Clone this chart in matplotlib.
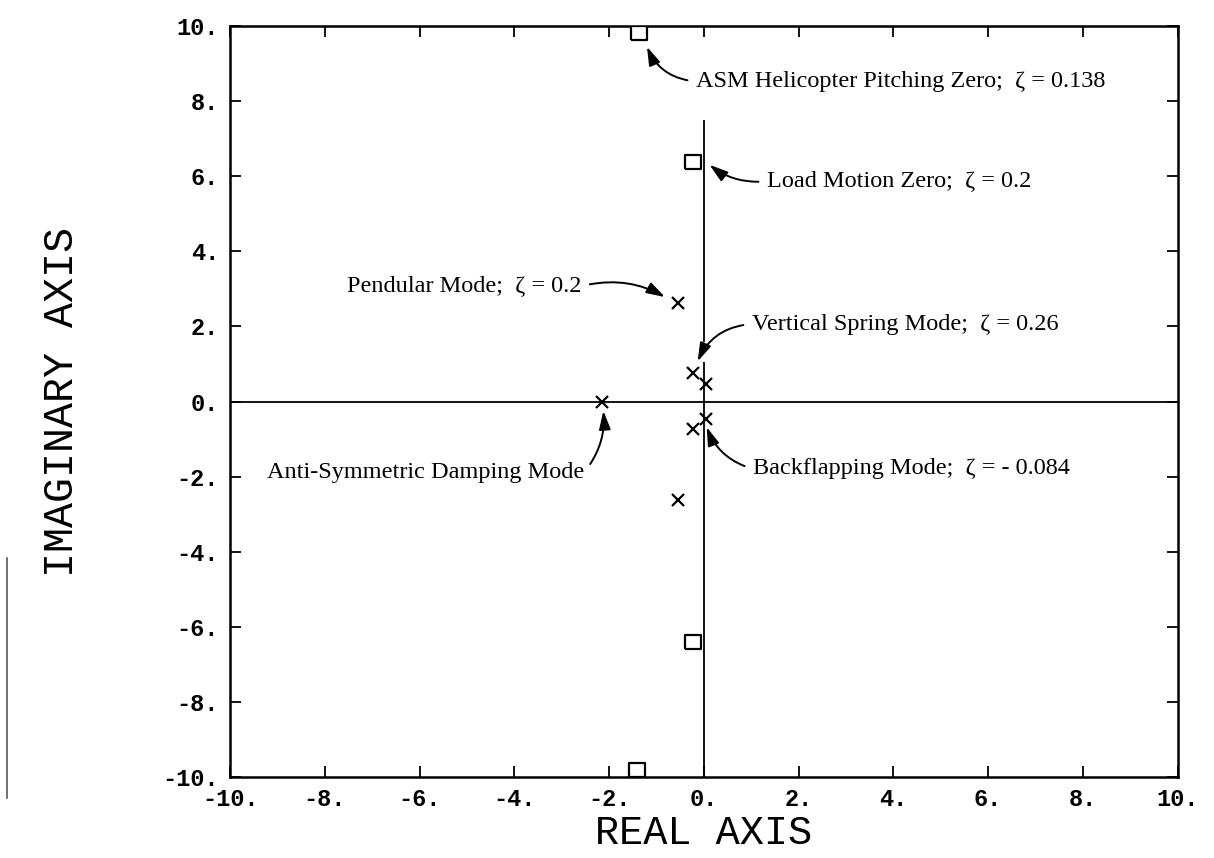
import numpy as np
import matplotlib.pyplot as plt
from matplotlib.lines import Line2D

# polos (x) y ceros (cuadrados)
polo_re = [-0.55, -0.55, -2.15, -0.23, -0.23, 0.04, 0.04]
polo_im = [2.63, -2.63, 0.0, 0.75, -0.73, 0.48, -0.46]
cero_re = [-1.37, -1.40, -0.23, -0.23]
cero_im = [9.8, -9.8, 6.37, -6.39]

ticks = [-10, -8, -6, -4, -2, 0, 2, 4, 6, 8, 10]
tick_lbl = ["-10.", "-8.", "-6.", "-4.", "-2.", "0.", "2.", "4.", "6.", "8.", "10."]

# notas: texto, posicion del texto, punta de flecha, alineacion, salida flecha, curvatura
notas = [
    ("ASM Helicopter Pitching Zero;  \u03b6 = 0.138", (-0.17, 8.52), (-1.2, 9.44), "left", (0, 0.5), -0.3),
    ("Load Motion Zero;  \u03b6 = 0.2", (1.33, 5.86), (0.12, 6.3), "left", (0, 0.5), -0.2),
    ("Pendular Mode;  \u03b6 = 0.2", (-7.53, 3.07), (-0.82, 2.78), "left", (1, 0.5), -0.2),
    ("Vertical Spring Mode;  \u03b6 = 0.26", (1.01, 2.06), (-0.13, 1.07), "left", (0, 0.5), 0.3),
    ("Anti-Symmetric Damping Mode", (-9.22, -1.88), (-2.12, -0.25), "left", (1, 0.5), 0.2),
    ("Backflapping Mode;  \u03b6 = - 0.084", (1.03, -1.79), (0.06, -0.68), "left", (0, 0.5), -0.25),
]

# cuadrado un poco apaisado como en el original
caja = [(-1, -0.78), (1, -0.78), (1, 0.78), (-1, 0.78), (-1, -0.78)]

fig = plt.figure(figsize=(12.14, 8.58), dpi=100)
ax = fig.add_axes([0.1895, 0.094, 0.7805, 0.876])

ax.axhline(0, color="k", lw=1.3, zorder=1)
ax.vlines(0, -10, 1.05, color="k", lw=1.3, zorder=1)
ax.vlines(0, 1.58, 7.5, color="k", lw=1.3, zorder=1)

ax.plot(polo_re, polo_im, "x", color="k", ms=8, mew=1.6, zorder=3)
ax.plot(cero_re, cero_im, marker=caja, ls="none", mfc="white", mec="k",
        ms=12, mew=1.6, zorder=3)

for txt, xy_t, xy_a, ha, rp, rad in notas:
    ax.annotate(txt, xy=xy_a, xytext=xy_t, ha=ha, va="center",
                fontsize=17.5, family="Liberation Serif",
                arrowprops=dict(arrowstyle="-|>,head_length=0.7,head_width=0.22",
                                color="k", lw=1.4,
                                mutation_scale=16, shrinkA=4, shrinkB=0,
                                relpos=rp,
                                connectionstyle="arc3,rad=%s" % rad))

ax.set_xlim(-10, 10)
ax.set_ylim(-10, 10)
ax.set_xticks(ticks)
ax.set_yticks(ticks)
ax.set_xticklabels(tick_lbl, family="Liberation Mono", weight="bold", fontsize=17)
ax.set_yticklabels(tick_lbl, family="Liberation Mono", weight="bold", fontsize=17)
ax.tick_params(direction="in", length=8, width=1.3, top=True, right=True, pad=8)
for s in ax.spines.values():
    s.set_linewidth(1.8)

ax.set_xlabel("REAL AXIS", family="Liberation Mono", fontsize=29, labelpad=2)
ax.set_ylabel("IMAGINARY AXIS", family="Liberation Mono", fontsize=30, labelpad=58)

# raya del escaneo en el margen izquierdo
fig.add_artist(Line2D([0.006, 0.006], [0.07, 0.35], color="0.35", lw=1.2))

fig.savefig("out.png", dpi=100)
